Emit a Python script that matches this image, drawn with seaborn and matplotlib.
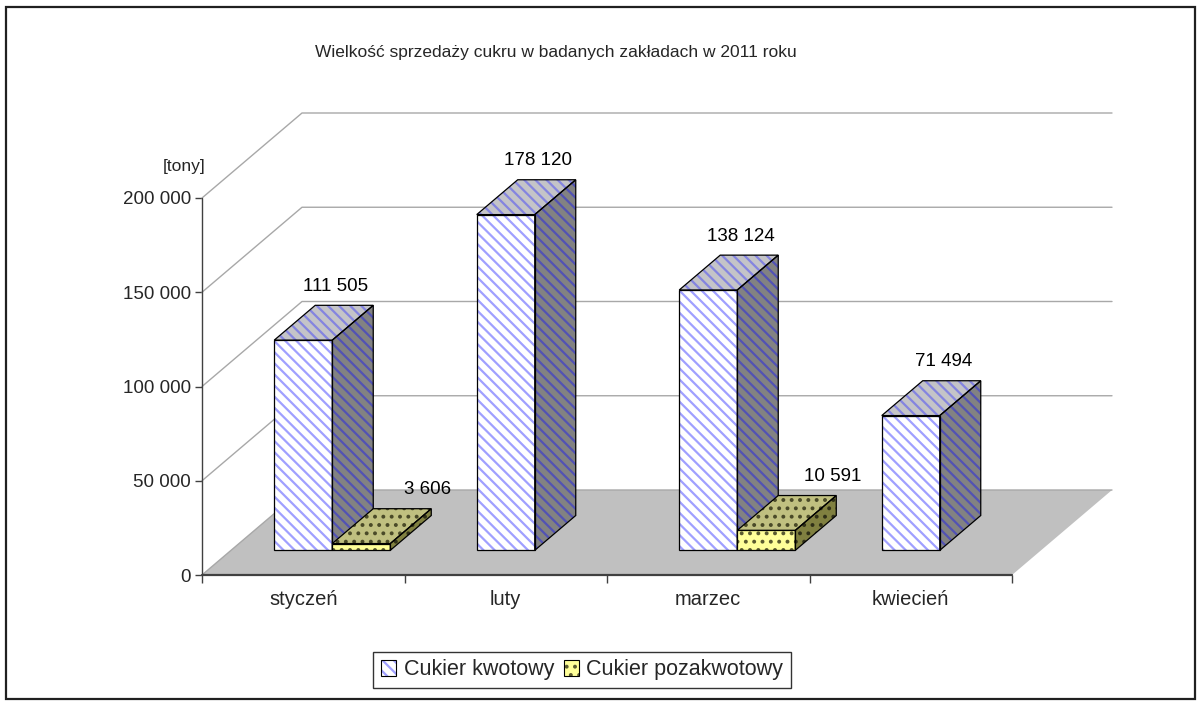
import numpy as np
import pandas as pd
import seaborn as sns
import matplotlib.pyplot as plt
from matplotlib.patches import Polygon, Patch, Rectangle

# dane
miesiace = ["styczeń", "luty", "marzec", "kwiecień"]
serie = ["Cukier kwotowy", "Cukier pozakwotowy"]
kwotowy = [111505, 178120, 138124, 71494]
pozakwotowy = [3606, None, 10591, None]
y_ticks = [0, 50000, 100000, 150000, 200000]
y_tick_labels = ["0", "50 000", "100 000", "150 000", "200 000"]
tytul = "Wielkość sprzedaży cukru w badanych zakładach w 2011 roku"
jednostka = "[tony]"

df = pd.DataFrame({
    "miesiac": miesiace * 2,
    "rodzaj": [serie[0]] * 4 + [serie[1]] * 4,
    "tony": kwotowy + pozakwotowy,
}).dropna()

sns.set_style("white")
plt.rcParams['font.family'] = ['Liberation Sans', 'DejaVu Sans']
plt.rcParams['hatch.linewidth'] = 1.6

W, H = 1198, 701
fig = plt.figure(figsize=(W / 100, H / 100), dpi=100)
ax = fig.add_axes([202 / W, 1 - 575 / H, (1112 - 202) / W, (575 - 113) / H])

# "3D" geometry (depth of floor, position/depth of bars)
px_cat = 202.5
px_val = 377 / 200000
DX = 100 / px_cat
DY = 85 / px_val
ZF = 0.29   # front face of bars
ZD = 0.41   # bar depth

style = {
    serie[0]: dict(hatch='\\\\\\', front=('#ffffff', '#a0a0ff'), top=('#c4c4c8', '#8484e0'),
                   side=('#828282', '#5252b4')),
    serie[1]: dict(hatch='..', front=('#ffff99', '#5a5a30'), top=('#c0c080', '#4a4a28'),
                   side=('#808040', '#303018')),
}

sns.barplot(data=df, x="miesiac", y="tony", hue="rodzaj", order=miesiace, hue_order=serie,
            width=0.573, ax=ax, legend=False)

ax.set_xlim(-0.5, 3.5 + DX)
ax.set_ylim(0, 200000 + DY)

# floor
ax.add_patch(Polygon([(-0.5, 0), (3.5, 0), (3.5 + DX, DY), (-0.5 + DX, DY)],
                     closed=True, facecolor='#c0c0c0', edgecolor='none', zorder=0.5))
# walls gridlines
for v in y_ticks:
    ax.plot([-0.5, -0.5 + DX, 3.5 + DX], [v, v + DY, v + DY], color='#a8a8a8', lw=1,
            zorder=0.6, clip_on=False)
# front axes
ax.plot([-0.5, -0.5], [0, 200000], color='#404040', lw=1, zorder=1.5, clip_on=False)
ax.plot([-0.5, 3.5], [0, 0], color='#404040', lw=1.6, zorder=1.5, clip_on=False)

bars = []
for cont, s in zip(ax.containers, serie):
    for rect in cont:
        if not np.isnan(rect.get_height()):
            bars.append((rect, s))
bars.sort(key=lambda b: b[0].get_x())

bdx, bdy = ZD * DX, ZD * DY
for i, (rect, s) in enumerate(bars):
    st = style[s]
    z = 2 + i
    w, h = rect.get_width(), rect.get_height()
    fx, fy = rect.get_x() + ZF * DX, ZF * DY
    rect.set_x(fx)
    rect.set_y(fy)
    rect.set_facecolor(st['front'][0])
    rect.set_edgecolor(st['front'][1])
    rect.set_linewidth(0)
    rect.set_hatch(st['hatch'])
    rect.set_zorder(z)
    ax.add_patch(Rectangle((fx, fy), w, h, fill=False, edgecolor='black', lw=0.9, zorder=z + 0.1))
    top = [(fx, fy + h), (fx + w, fy + h), (fx + w + bdx, fy + h + bdy), (fx + bdx, fy + h + bdy)]
    side = [(fx + w, fy), (fx + w + bdx, fy + bdy), (fx + w + bdx, fy + h + bdy), (fx + w, fy + h)]
    for pts, key in [(top, 'top'), (side, 'side')]:
        ax.add_patch(Polygon(pts, closed=True, facecolor=st[key][0], edgecolor=st[key][1],
                             lw=0, hatch=st['hatch'], zorder=z))
        ax.add_patch(Polygon(pts, closed=True, fill=False, edgecolor='black', lw=0.9, zorder=z + 0.1))
    label = f"{h:,.0f}".replace(",", " ")
    off_x = 12 if s == serie[0] else 46
    ax.annotate(label, xy=(fx + w / 2 + bdx / 2, fy + h + bdy), xytext=(off_x, 19),
                textcoords='offset pixels', ha='center', va='center', fontsize=13.5,
                color='black', zorder=50)

for sp in ax.spines.values():
    sp.set_visible(False)
ax.set_facecolor('white')
ax.set_xlabel('')
ax.set_ylabel('')
ax.set_yticks(y_ticks, labels=y_tick_labels)
ax.tick_params(axis='y', direction='out', length=5, width=1, color='#404040',
               pad=3, labelsize=13.5, left=True)
ax.set_xticks([-0.5, 0.5, 1.5, 2.5, 3.5], labels=[''] * 5)
ax.set_xticks(range(len(miesiace)), labels=miesiace, minor=True)
ax.tick_params(axis='x', which='major', direction='out', length=6, width=1, color='#404040',
               bottom=True)
ax.tick_params(axis='x', which='minor', length=0, pad=11, labelsize=14.5)

fig.text(556 / W, 1 - 52 / H, tytul, ha='center', va='center', fontsize=12.5)
fig.text(184 / W, 1 - 166 / H, jednostka, ha='center', va='center', fontsize=12.5)

handles = []
for s in serie:
    st = style[s]
    handles.append((Patch(facecolor=st['front'][0], edgecolor=st['front'][1], lw=0, hatch=st['hatch']),
                    Patch(fill=False, edgecolor='black', lw=0.8)))
leg = fig.legend(handles, serie, loc='center', bbox_to_anchor=(582 / W, 1 - 670 / H),
                 bbox_transform=fig.transFigure, ncol=2, fontsize=15.5, frameon=True,
                 fancybox=False, edgecolor='black', handlelength=0.7, handleheight=0.7,
                 handletextpad=0.35, columnspacing=0.45, borderpad=0.35)
leg.get_frame().set_linewidth(1)

fig.patches.append(Rectangle((6 / W, 1 - 699 / H), (1195 - 6) / W, (699 - 7) / H,
                             transform=fig.transFigure, fill=False, edgecolor='#202020', lw=1.6))

fig.savefig("out.png", dpi=100)
